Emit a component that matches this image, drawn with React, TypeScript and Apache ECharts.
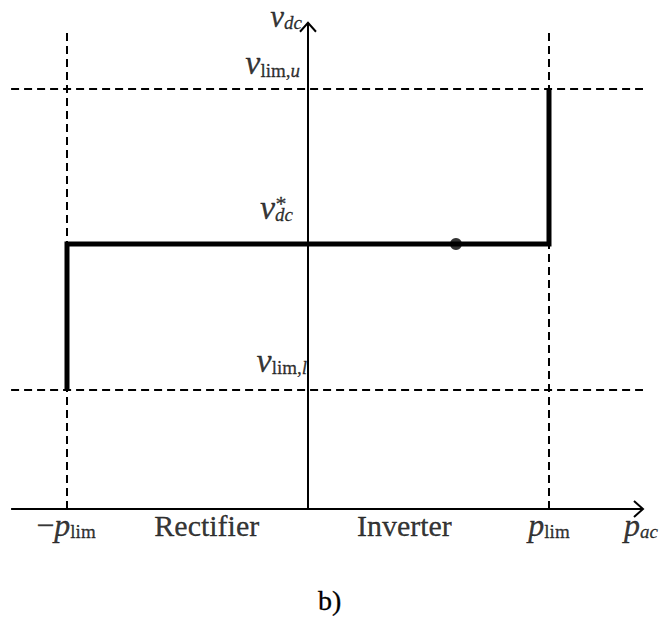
import React, { useEffect, useRef } from "react";
import * as echarts from "echarts";

// ---- data (normalised units: p_lim = 1, v* = 1) ----
const pLim = 1;
const vStar = 1;
const vLimU = 1.585;
const vLimL = 0.449;
const pOperating = 0.614;
const xAxisExtent = [-1.232, 1.39];
const yAxisTop = 1.835;
const dashedVTop = 1.81;
const characteristicP = [-pLim, -pLim, pLim, pLim];
const characteristicV = [vLimL, vStar, vStar, vLimU];
const regionLabels = ["Rectifier", "Inverter"];
const regionCenters = [-0.42, 0.4];
const caption = "b)";

const FONT = "'Liberation Serif', 'Times New Roman', serif";
const C = "#000";
const B = { textBorderColor: C, textBorderWidth: 0.3 };

const rich = {
  v: { fontFamily: FONT, fontStyle: "italic", fontSize: 34, lineHeight: 26, verticalAlign: "bottom", color: C, ...B },
  vt: { fontFamily: FONT, fontStyle: "italic", fontSize: 31, lineHeight: 26, verticalAlign: "bottom", color: C, ...B },
  p: { fontFamily: FONT, fontStyle: "italic", fontSize: 32, lineHeight: 36, verticalAlign: "bottom", color: C, ...B },
  m: { fontFamily: FONT, fontSize: 32, lineHeight: 36, verticalAlign: "bottom", color: C, ...B },
  n: { fontFamily: FONT, fontSize: 30, lineHeight: 36, verticalAlign: "bottom", color: C, ...B },
  si: { fontFamily: FONT, fontStyle: "italic", fontSize: 19, lineHeight: 2, verticalAlign: "bottom", color: C, ...B },
  sr: { fontFamily: FONT, fontSize: 19, lineHeight: 2, verticalAlign: "bottom", color: C, ...B },
  pi: { fontFamily: FONT, fontStyle: "italic", fontSize: 19, lineHeight: 10, verticalAlign: "bottom", color: C, ...B },
  pr: { fontFamily: FONT, fontSize: 19, lineHeight: 10, verticalAlign: "bottom", color: C, ...B },
  st: { fontFamily: FONT, fontSize: 22, lineHeight: 4, color: C, ...B },
};

function lbl(value: number[], text: string, align: string, dx: number, dy: number, va = "bottom") {
  return {
    value,
    label: {
      show: true,
      position: [0, 0],
      formatter: text,
      align,
      verticalAlign: va,
      offset: [dx, dy],
      color: C,
      rich,
    },
  };
}

export default function App() {
  const ref = useRef<HTMLDivElement>(null);
  useEffect(() => {
    if (!ref.current) return;
    const chart = echarts.init(ref.current, null, { renderer: "svg" });
    const dash = { color: C, width: 2, type: [8, 5] as any };
    const lineBase = { type: "line", symbol: "none", silent: true, clip: false, animation: false };

    const labelData = [
      lbl([0, yAxisTop], "{vt|v}{si|dc}", "right", -6, 9),
      lbl([0, vLimU], "{v|v}{sr|lim,}{si|u}", "right", -8, -9),
      lbl([0, vStar], "{v|v}{si|dc}", "right", -15, -20),
      lbl([0, vStar], "{st|*}", "center", -27, -41, "middle"),
      lbl([0, vLimL], "{v|v}{sr|lim,}{si|l}", "right", -1, -13),
      lbl([-pLim, 0], "{m|\u2212}{p|p}{pr|lim}", "center", -1, 32),
      lbl([pLim, 0], "{p|p}{pr|lim}", "center", 0, 32),
      lbl([xAxisExtent[1], 0], "{p|p}{pi|ac}", "center", -2, 32),
      lbl([regionCenters[0], 0], `{n|${regionLabels[0]}}`, "center", 0, 32),
      lbl([regionCenters[1], 0], `{n|${regionLabels[1]}}`, "center", 0, 32),
    ];

    chart.setOption({
      animation: false,
      backgroundColor: "#fff",
      grid: { left: 0, right: 0, top: 0, bottom: 0 },
      xAxis: { type: "value", min: -1.278, max: 1.4606, show: false },
      yAxis: { type: "value", min: -0.4189, max: 1.9208, show: false },
      graphic: [
        {
          type: "text",
          x: 318,
          y: 600,
          style: { text: caption, font: `28px ${FONT}`, fill: C, stroke: C, lineWidth: 0.3, verticalAlign: "middle" },
        },
      ],
      series: [
        { ...lineBase, data: [[xAxisExtent[0], 0], [xAxisExtent[1], 0]], lineStyle: { color: C, width: 2 } },
        { ...lineBase, data: [[0, 0], [0, yAxisTop]], lineStyle: { color: C, width: 2 } },
        { ...lineBase, data: [[xAxisExtent[0], vLimU], [xAxisExtent[1], vLimU]], lineStyle: dash },
        { ...lineBase, data: [[xAxisExtent[0], vLimL], [xAxisExtent[1], vLimL]], lineStyle: dash },
        { ...lineBase, data: [[-pLim, 0], [-pLim, dashedVTop]], lineStyle: dash },
        { ...lineBase, data: [[pLim, 0], [pLim, dashedVTop]], lineStyle: dash },
        {
          ...lineBase,
          z: 5,
          data: characteristicP.map((p, i) => [p, characteristicV[i]]),
          lineStyle: { color: C, width: 5, join: "miter", cap: "butt" },
        },
        {
          type: "scatter",
          z: 6,
          silent: true,
          symbolSize: 12,
          itemStyle: { color: C },
          data: [[pOperating, vStar]],
        },
        {
          type: "custom",
          silent: true,
          z: 4,
          data: [
            [xAxisExtent[1], 0, 0],
            [0, yAxisTop, 1],
          ],
          renderItem: (params: any, api: any) => {
            const pt = api.coord([api.value(0), api.value(1)]);
            const vertical = api.value(2) === 1;
            const back = 9;
            const out = 8;
            const points = vertical
              ? [[pt[0] - out, pt[1] + back], [pt[0], pt[1]], [pt[0] + out, pt[1] + back]]
              : [[pt[0] - back, pt[1] - out], [pt[0], pt[1]], [pt[0] - back, pt[1] + out]];
            return {
              type: "polyline",
              shape: { points },
              style: { stroke: C, lineWidth: 2, fill: null },
            };
          },
        },
        {
          type: "scatter",
          silent: true,
          symbolSize: 0,
          z: 7,
          itemStyle: { color: "transparent" },
          data: labelData,
        },
      ],
    });
    return () => chart.dispose();
  }, []);
  return (
    <div
      ref={ref}
      style={{ position: "fixed", left: 0, top: 0, width: 660, height: 620, background: "#fff" }}
    />
  );
}
